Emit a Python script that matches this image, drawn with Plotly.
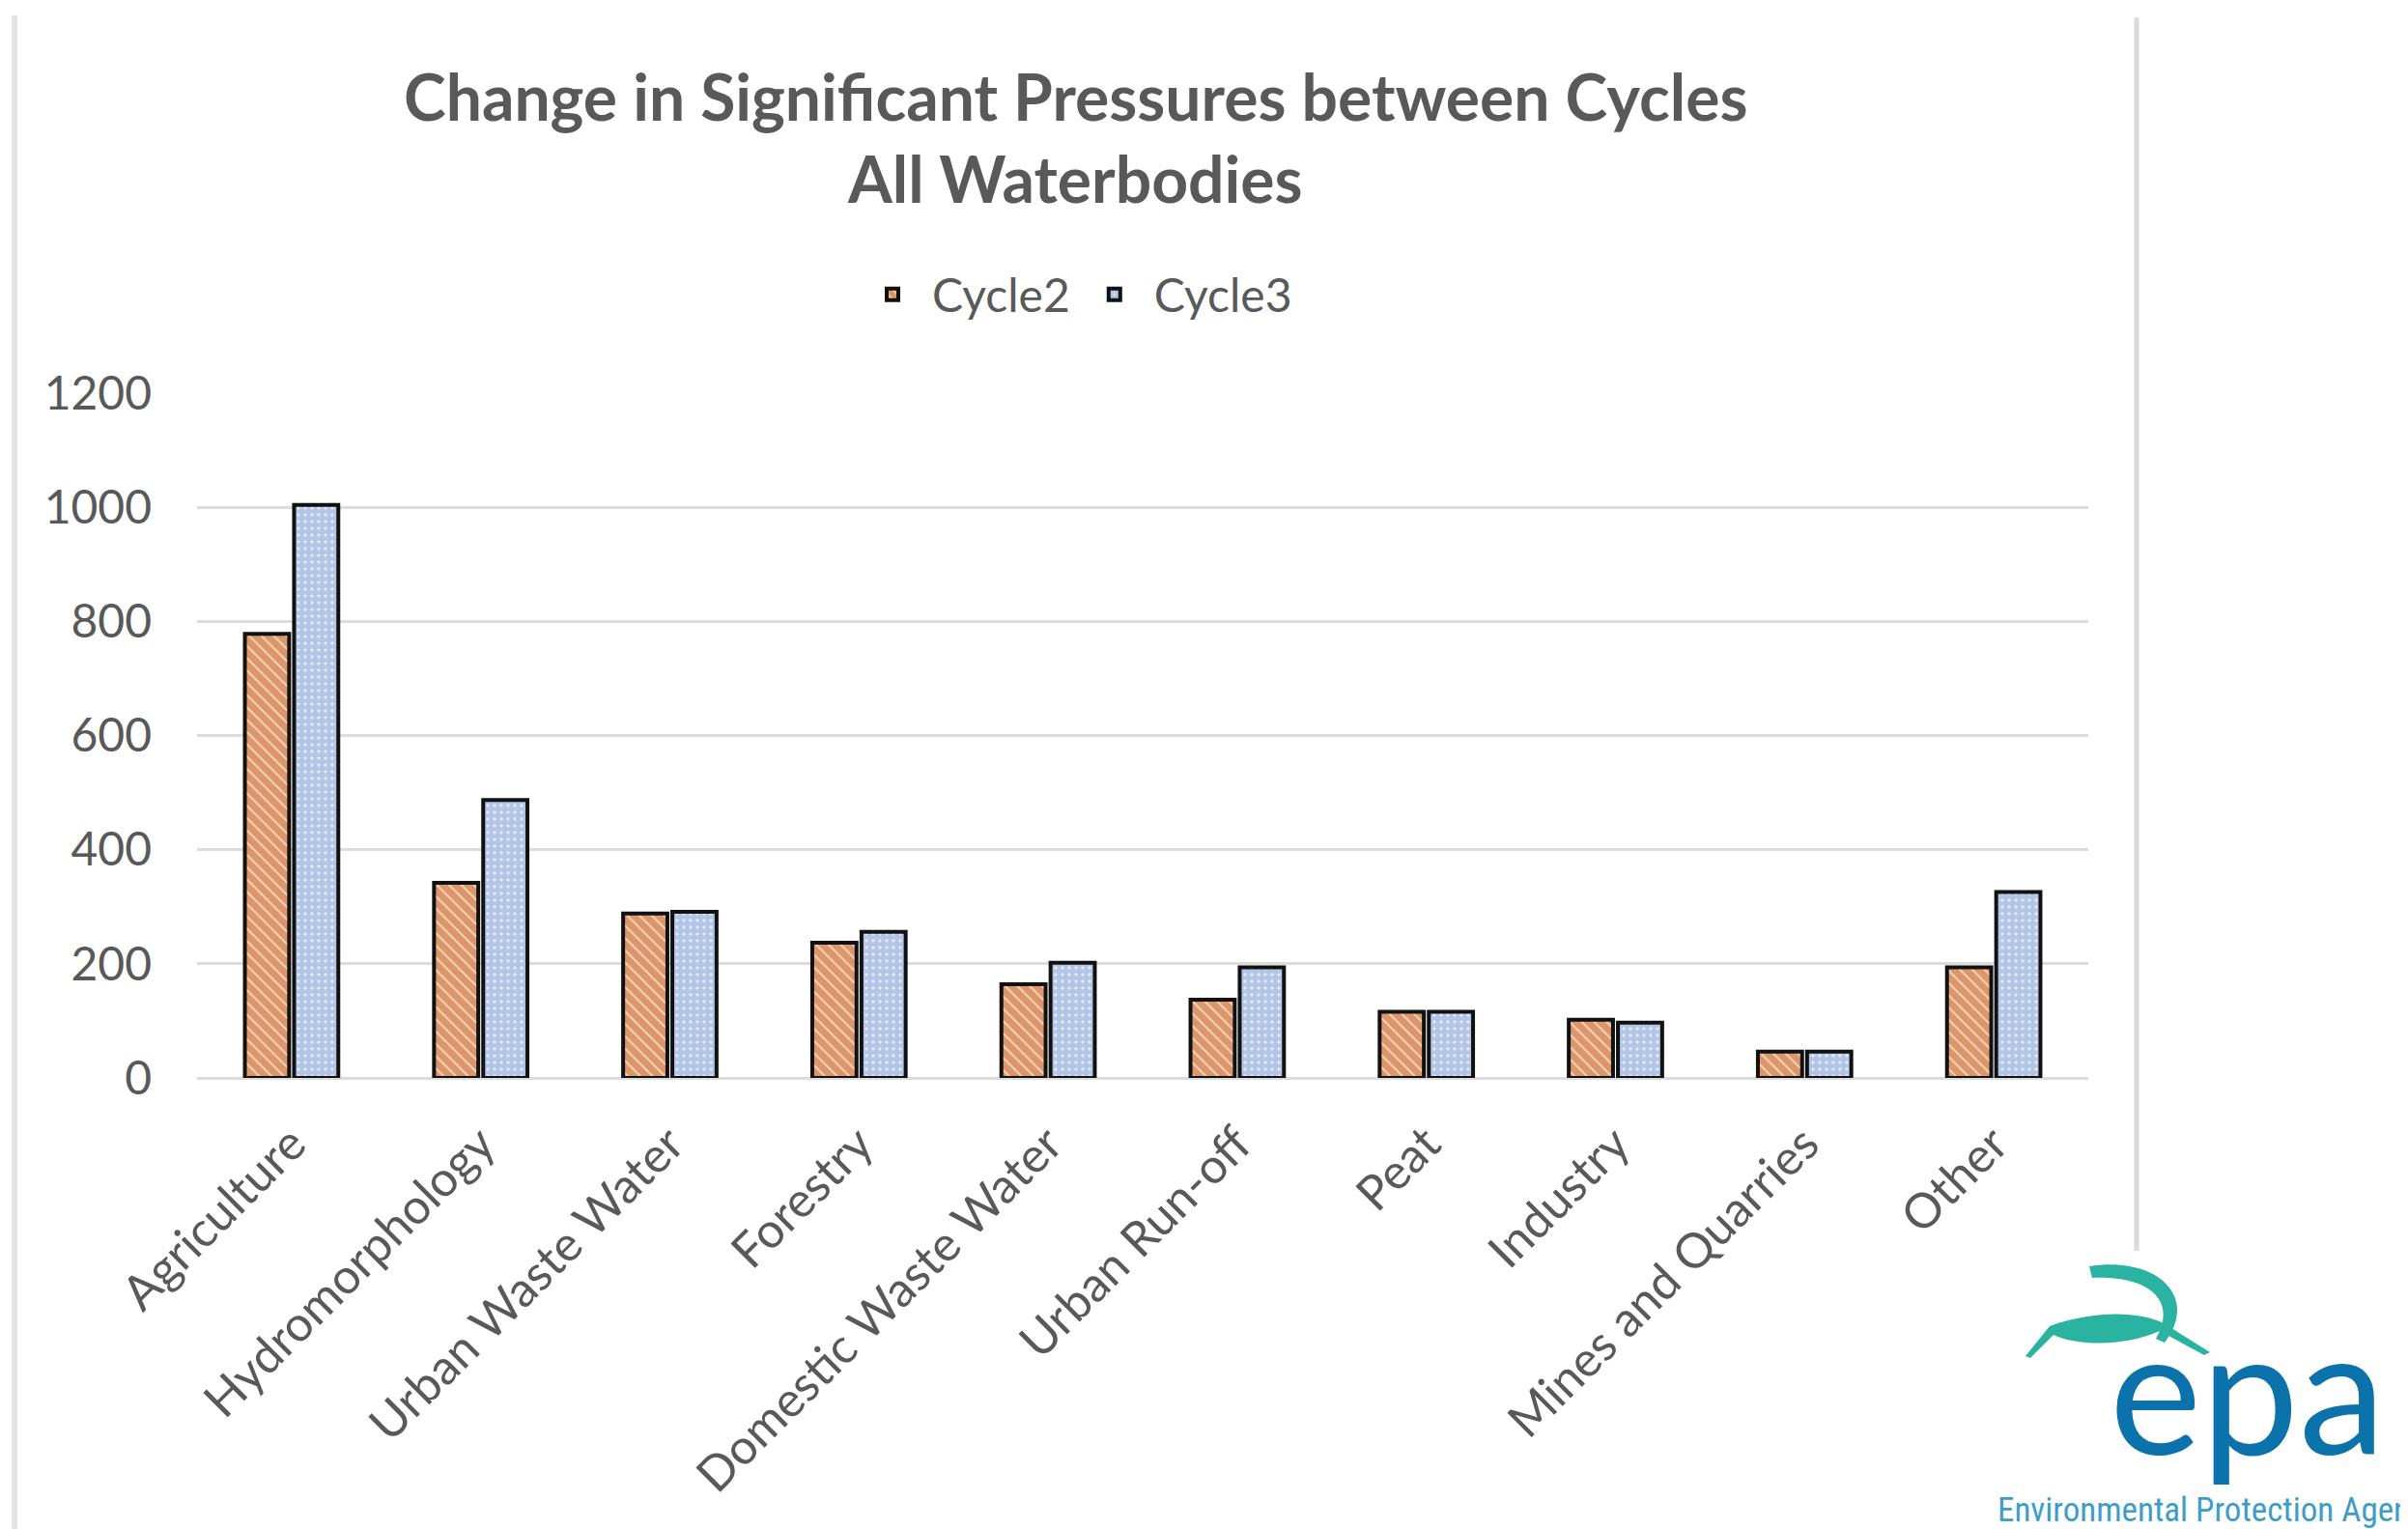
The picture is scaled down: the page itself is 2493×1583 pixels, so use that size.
import plotly.graph_objects as go

categories = ["Agriculture", "Hydromorphology", "Urban Waste Water", "Forestry",
              "Domestic Waste Water", "Urban Run-off", "Peat", "Industry",
              "Mines and Quarries", "Other"]
cycle2 = [778, 342, 288, 237, 164, 137, 116, 102, 46, 194]
cycle3 = [1004, 487, 291, 256, 202, 194, 116, 97, 46, 326]
y_ticks = [0, 200, 400, 600, 800, 1000, 1200]

# page body margin offset (browser default)
OFF = 8
W, H = 2493 - OFF, 1583 - OFF
# plot area in reference pixel coords
PL, PR, PT, PB = 204, 2162, 407, 1116
L, T = PL - OFF, PT - OFF
R, B = W - (PR - OFF), H - (PB - OFF)
PW, PH = PR - PL, PB - PT


def px(x):
    return (x - PL) / PW


def py(y):
    return (PB - y) / PH


def path(cmds):
    out = []
    for c in cmds:
        if isinstance(c, str):
            out.append(c)
        else:
            out.append(f"{px(c[0]):.5f},{py(c[1]):.5f}")
    return " ".join(out)


GREY = "#595959"
FONT = "Lato"

fig = go.Figure()
fig.add_trace(go.Bar(
    name="Cycle2", x=categories, y=cycle2,
    marker=dict(color="white",
                line=dict(color="#111111", width=4),
                pattern=dict(shape="\\", fgcolor="#C0500A", bgcolor="#F8DCC8",
                             size=9, solidity=0.8)),
))
fig.add_trace(go.Bar(
    name="Cycle3", x=categories, y=cycle3,
    marker=dict(color="white",
                line=dict(color="#111111", width=4),
                pattern=dict(shape=".", fgcolor="#7F9DD6", bgcolor="#E6ECF8",
                             size=7, solidity=0.8)),
))

shapes = [
    dict(type="line", xref="paper", yref="paper", x0=px(15), x1=px(15),
         y0=py(16), y1=py(1600), line=dict(color="#E3E3E3", width=6)),
    dict(type="line", xref="paper", yref="paper", x0=px(2212), x1=px(2212),
         y0=py(18), y1=py(1295), line=dict(color="#DADADA", width=5)),
    # logo swoosh arc
    dict(type="path", xref="paper", yref="paper", line=dict(width=0),
         fillcolor="#2BB3A1",
         path=path(["M", (2163, 1311), "C", (2232, 1300), (2278, 1342), (2241, 1390),
                    "L", (2232, 1386), "C", (2256, 1345), (2222, 1320), (2166, 1323), "Z"])),
    # logo leaf
    dict(type="path", xref="paper", yref="paper", line=dict(width=0),
         fillcolor="#2BB3A1",
         path=path(["M", (2097, 1404), "L", (2122, 1373), "C", (2170, 1356), (2215, 1358), (2240, 1370),
                    "L", (2288, 1400), "L", (2282, 1403), "L", (2236, 1378),
                    "C", (2200, 1394), (2152, 1394), (2126, 1382), "L", (2102, 1406), "Z"])),
]

annotations = [
    dict(text="<b>Change in Significant Pressures between Cycles</b>", x=px(1113), y=py(99),
         xref="paper", yref="paper", showarrow=False, xanchor="center", yanchor="middle",
         font=dict(family=FONT, size=66, color=GREY)),
    dict(text="<b>All Waterbodies</b>", x=px(1113), y=py(184),
         xref="paper", yref="paper", showarrow=False, xanchor="center", yanchor="middle",
         font=dict(family=FONT, size=66, color=GREY)),
    dict(text="epa", x=px(2182), y=py(1436), xref="paper", yref="paper", showarrow=False,
         xanchor="left", yanchor="middle",
         font=dict(family="Lato", size=180, color="#0B72AB")),
    dict(text="Environmental Protection Agency", x=px(2066), y=py(1563), xref="paper", yref="paper",
         showarrow=False, xanchor="left", yanchor="middle",
         font=dict(family="Liberation Sans Narrow, Roboto Condensed, Roboto", size=35, color="#3E9CCB")),
]

fig.update_layout(
    width=W, height=H,
    margin=dict(l=L, r=R, t=T, b=B, autoexpand=False),
    paper_bgcolor="white", plot_bgcolor="white",
    barmode="group", bargap=0.48, bargroupgap=0.1,
    font=dict(family=FONT, color=GREY),
    showlegend=True,
    legend=dict(orientation="h", x=px(1113), y=py(305), xanchor="center", yanchor="middle",
                font=dict(family=FONT, size=48, color=GREY), itemwidth=72,
                bgcolor="rgba(0,0,0,0)"),
    shapes=shapes,
    annotations=annotations,
)
fig.update_yaxes(range=[0, 1200], tickvals=y_ticks, ticktext=[str(v) for v in y_ticks],
                 showgrid=True, gridcolor="#DCDCDC", gridwidth=3,
                 zeroline=True, zerolinecolor="#DCDCDC", zerolinewidth=3,
                 showline=False, ticks="", ticklabelstandoff=46,
                 tickfont=dict(family=FONT, size=48, color=GREY))
fig.update_xaxes(tickangle=-45, showline=False, ticks="", ticklabelstandoff=28,
                 tickfont=dict(family=FONT, size=50, color=GREY))

fig.write_html("out.html")
